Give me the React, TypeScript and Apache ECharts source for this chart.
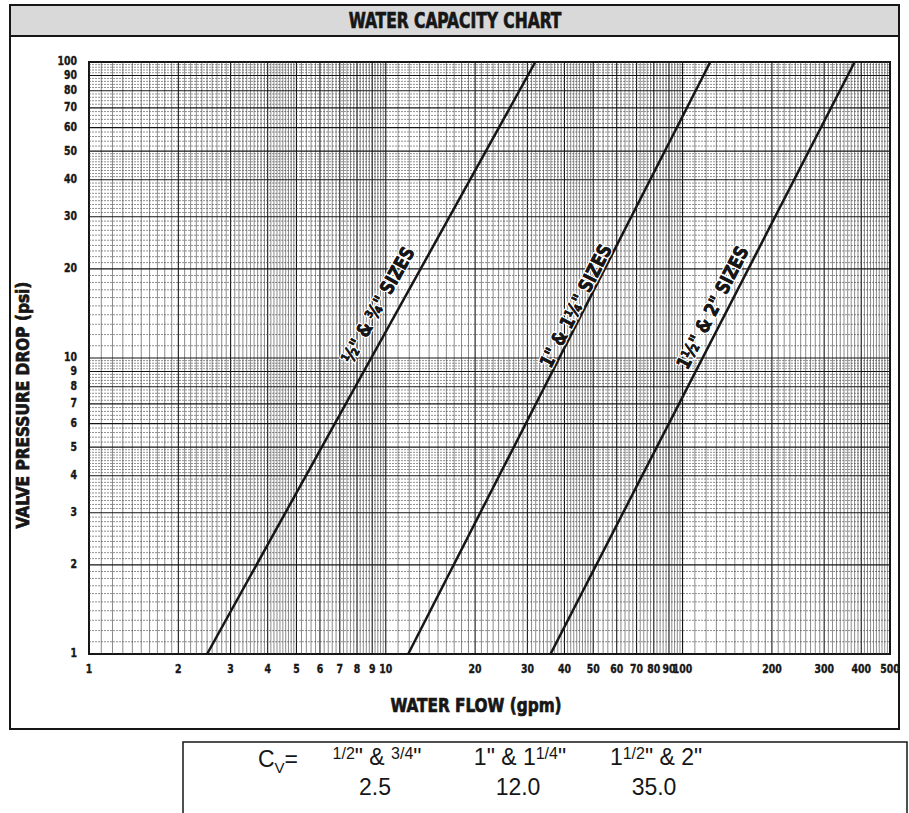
import React, { useEffect, useRef } from "react";
import * as echarts from "echarts";

// ---- axis ranges and tick labels ----
const X_MIN = 1;
const X_MAX = 500;
const Y_MIN = 1;
const Y_MAX = 100;
const X_TICKS = [1, 2, 3, 4, 5, 6, 7, 8, 9, 10, 20, 30, 40, 50, 60, 70, 80, 90, 100, 200, 300, 400, 500];
const Y_TICKS = [1, 2, 3, 4, 5, 6, 7, 8, 9, 10, 20, 30, 40, 50, 60, 70, 80, 90, 100];

// graph-paper rulings: [from, to, step] (relative to a decade start of 1)
const RULING_PATTERN = [
  [1, 2, 0.1],
  [2, 5, 0.1],
  [5, 10, 0.2],
];
const X_DECADES = [1, 10, 100];
const Y_DECADES = [1, 10];

// ---- capacity lines: [water flow gpm, pressure drop psi] ----
const LINE_HALF_THREEQ = [
  [2.5, 1],
  [31.9, 100],
];
const LINE_ONE_ONEQ = [
  [11.9, 1],
  [124, 100],
];
const LINE_ONEH_TWO = [
  [35.9, 1],
  [380, 100],
];
const LINES = [LINE_HALF_THREEQ, LINE_ONE_ONEQ, LINE_ONEH_TWO];
const LINE_NAMES = ['½" & ¾" SIZES', '1" & 1¼" SIZES', '1½" & 2" SIZES'];
const LABEL_ANCHORS = [
  [9.4, 15.1],
  [43.6, 15.0],
  [126, 14.8],
];

// ---- Cv table ----
const CV_SIZES = ['{s|1/2}" & {s|3/4}"', '1" & 1{s|1/4}"', '1{s|1/2}" & 2"'];
const CV_VALUES = [2.5, 12.0, 35.0];

const TITLE = "WATER CAPACITY CHART";
const X_TITLE = "WATER FLOW (gpm)";
const Y_TITLE = "VALVE PRESSURE DROP (psi)";

const COND = '"Liberation Sans Narrow", "DejaVu Sans Condensed", "Roboto", sans-serif';
const REG = '"Liberation Sans", "Arimo", Arial, sans-serif';
const INK = "#161616";

function buildRulings(decades: number[], min: number, max: number) {
  const out: number[][] = [];
  decades.forEach((d) => {
    RULING_PATTERN.forEach(([a, b, step]) => {
      const n = Math.round((b - a) / step);
      for (let i = 0; i < n; i++) {
        const rel = Math.round((a + i * step) * 1000) / 1000;
        const v = Math.round(rel * d * 1000) / 1000;
        if (v <= min || v >= max) continue;
        const major = Math.abs(rel - Math.round(rel)) < 1e-6 ? 1 : 0;
        out.push([v, major]);
      }
    });
  });
  return out;
}

export default function App() {
  const ref = useRef<HTMLDivElement>(null);

  useEffect(() => {
    if (!ref.current) return;
    const chart = echarts.init(ref.current, null, { renderer: "svg" });

    const vLines = buildRulings(X_DECADES, X_MIN, X_MAX).map(([v, m]) => [v, Y_MIN, m]);
    const hLines = buildRulings(Y_DECADES, Y_MIN, Y_MAX).map(([v, m]) => [X_MIN, v, m]);

    const tickText = {
      fontFamily: COND,
      fontWeight: "bold",
      fontSize: 13,
      fill: INK,
      stroke: INK,
      lineWidth: 0.4,
    };

    const option: any = {
      animation: false,
      backgroundColor: "#ffffff",
      grid: {
        left: 89,
        right: 19,
        top: 62,
        bottom: 159,
        show: true,
        borderColor: INK,
        borderWidth: 2,
        backgroundColor: "#ffffff",
        containLabel: false,
      },
      xAxis: {
        type: "log",
        logBase: 10,
        min: X_MIN,
        max: X_MAX,
        axisLine: { show: false },
        axisTick: { show: false },
        splitLine: { show: false },
        axisLabel: { show: false },
      },
      yAxis: {
        type: "log",
        logBase: 10,
        min: Y_MIN,
        max: Y_MAX,
        axisLine: { show: false },
        axisTick: { show: false },
        splitLine: { show: false },
        axisLabel: { show: false },
      },
      series: [
        {
          type: "custom",
          name: "vertical rulings",
          silent: true,
          z: 1,
          encode: { x: 0, y: 1 },
          data: vLines,
          renderItem: (params: any, api: any) => {
            const x = api.value(0);
            const major = api.value(2);
            const a = api.coord([x, Y_MIN]);
            const b = api.coord([x, Y_MAX]);
            return {
              type: "line",
              shape: { x1: a[0], y1: a[1], x2: b[0], y2: b[1] },
              style: { stroke: major ? "#141414" : "#3c3c3c", lineWidth: major ? 1.1 : 0.6 },
            };
          },
        },
        {
          type: "custom",
          name: "horizontal rulings",
          silent: true,
          z: 1,
          encode: { x: 0, y: 1 },
          data: hLines,
          renderItem: (params: any, api: any) => {
            const y = api.value(1);
            const major = api.value(2);
            const a = api.coord([X_MIN, y]);
            const b = api.coord([X_MAX, y]);
            return {
              type: "line",
              shape: { x1: a[0], y1: a[1], x2: b[0], y2: b[1] },
              style: {
                stroke: major ? "#141414" : "#444444",
                lineWidth: major ? 1.1 : 0.6,
                lineDash: major ? null : [2, 1],
              },
            };
          },
        },
        {
          type: "custom",
          name: "x tick labels",
          silent: true,
          z: 10,
          encode: { x: 0, y: 1 },
          data: X_TICKS.map((v) => [v, Y_MIN]),
          renderItem: (params: any, api: any) => {
            const v = api.value(0);
            const p = api.coord([v, Y_MIN]);
            return {
              type: "text",
              x: p[0],
              y: p[1] + 15,
              scaleX: 0.8,
              style: { ...tickText, text: String(Math.round(v)), align: "center", verticalAlign: "middle" },
            };
          },
        },
        {
          type: "custom",
          name: "y tick labels",
          silent: true,
          z: 10,
          encode: { x: 0, y: 1 },
          data: Y_TICKS.map((v) => [X_MIN, v]),
          renderItem: (params: any, api: any) => {
            const v = api.value(1);
            const p = api.coord([X_MIN, v]);
            return {
              type: "text",
              x: p[0] - 12,
              y: p[1] - 1,
              scaleX: 0.8,
              style: { ...tickText, text: String(Math.round(v)), align: "right", verticalAlign: "middle" },
            };
          },
        },
        ...LINES.map((d, i) => ({
          type: "line",
          name: LINE_NAMES[i],
          data: d,
          symbol: "none",
          showSymbol: false,
          clip: true,
          z: 5,
          silent: true,
          lineStyle: { color: INK, width: 2.5 },
        })),
      ],
    };
    chart.setOption(option);

    const labelGraphics = LINES.map((line, i) => {
      const p1 = chart.convertToPixel({ gridIndex: 0 }, line[0]) as number[];
      const p2 = chart.convertToPixel({ gridIndex: 0 }, line[1]) as number[];
      const ang = Math.atan2(p1[1] - p2[1], p2[0] - p1[0]);
      const c = chart.convertToPixel({ gridIndex: 0 }, LABEL_ANCHORS[i]) as number[];
      return [
        {
          type: "text",
          x: c[0],
          y: c[1],
          rotation: ang,
          scaleX: 0.92,
          z: 19,
          style: {
            text: LINE_NAMES[i],
            x: 0,
            y: 0,
            align: "center",
            verticalAlign: "middle",
            fontFamily: COND,
            fontWeight: "bold",
            fontSize: 19,
            fill: INK,
            stroke: "#ffffff",
            lineWidth: 3,
          },
        },
        {
          type: "text",
          x: c[0],
          y: c[1],
          rotation: ang,
          scaleX: 0.92,
          z: 20,
          silent: true,
          style: {
            text: LINE_NAMES[i],
            x: 0,
            y: 0,
            align: "center",
            verticalAlign: "middle",
            fontFamily: COND,
            fontWeight: "bold",
            fontSize: 19,
            fill: INK,
            stroke: INK,
            lineWidth: 0.6,
          },
        },
      ];
    }).flat();

    const heavy = { fill: INK, stroke: INK, lineWidth: 0.7 };
    const cvCenters = [377, 520, 656];
    const graphics: any[] = [
      // outer frame and title band
      { type: "rect", z: -10, shape: { x: 10, y: 5, width: 889, height: 31 }, style: { fill: "#d9d9d9" } },
      { type: "rect", z: 30, shape: { x: 10, y: 5, width: 889, height: 724 }, style: { fill: "none", stroke: INK, lineWidth: 2 } },
      { type: "line", z: 30, shape: { x1: 10, y1: 36, x2: 899, y2: 36 }, style: { stroke: INK, lineWidth: 2 } },
      {
        type: "text",
        z: 30,
        x: 455,
        y: 21,
        scaleX: 0.82,
        style: {
          text: TITLE,
          align: "center",
          verticalAlign: "middle",
          fontFamily: COND,
          fontWeight: "bold",
          fontSize: 21,
          ...heavy,
        },
      },
      {
        type: "text",
        z: 30,
        x: 476,
        y: 705,
        scaleX: 0.85,
        style: {
          text: X_TITLE,
          align: "center",
          verticalAlign: "middle",
          fontFamily: COND,
          fontWeight: "bold",
          fontSize: 20,
          ...heavy,
        },
      },
      {
        type: "text",
        z: 30,
        x: 23,
        y: 405,
        rotation: Math.PI / 2,
        scaleX: 0.95,
        style: {
          text: Y_TITLE,
          align: "center",
          verticalAlign: "middle",
          fontFamily: COND,
          fontWeight: "bold",
          fontSize: 18,
          ...heavy,
        },
      },
      // Cv table box
      { type: "rect", z: 30, shape: { x: 183, y: 742, width: 724, height: 90 }, style: { fill: "none", stroke: INK, lineWidth: 1.5 } },
      {
        type: "text",
        z: 30,
        x: 258,
        y: 759,
        style: {
          text: "C{v|V}=",
          align: "left",
          verticalAlign: "middle",
          fontFamily: REG,
          fontSize: 23,
          fill: INK,
          rich: {
            v: { fontFamily: REG, fontSize: 15, fill: INK, verticalAlign: "bottom", padding: [16, 0, 0, 0] },
          },
        },
      },
      ...CV_SIZES.map((t, i) => ({
        type: "text",
        z: 30,
        x: cvCenters[i],
        y: 757,
        style: {
          text: t,
          align: "center",
          verticalAlign: "middle",
          fontFamily: REG,
          fontSize: 23,
          fill: INK,
          rich: {
            s: { fontFamily: REG, fontSize: 16, fill: INK, verticalAlign: "top" },
          },
        },
      })),
      ...CV_VALUES.map((v, i) => ({
        type: "text",
        z: 30,
        x: cvCenters[i] - 2,
        y: 787,
        style: {
          text: v.toFixed(1),
          align: "center",
          verticalAlign: "middle",
          fontFamily: REG,
          fontSize: 23,
          fill: INK,
        },
      })),
      ...labelGraphics,
    ];
    chart.setOption({ graphic: graphics });

    return () => {
      chart.dispose();
    };
  }, []);

  return (
    <div
      ref={ref}
      style={{ position: "fixed", left: 0, top: 0, width: 909, height: 813, background: "#ffffff" }}
    />
  );
}
